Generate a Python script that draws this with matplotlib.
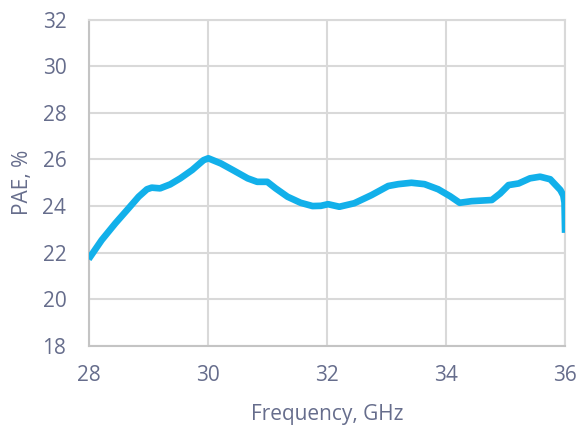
import matplotlib.pyplot as plt

# PAE vs frequency
freq = [28.0, 28.22, 28.45, 28.67, 28.84, 28.98, 29.06, 29.20, 29.37, 29.54,
        29.74, 29.93, 30.01, 30.22, 30.44, 30.67, 30.83, 31.0, 31.14, 31.34,
        31.56, 31.76, 31.9, 32.02, 32.21, 32.46, 32.75, 33.03, 33.20, 33.42,
        33.64, 33.87, 34.07, 34.23, 34.43, 34.77, 34.91, 35.05, 35.22, 35.41,
        35.58, 35.75, 35.92, 35.97, 35.99, 36.0]
pae = [21.72, 22.54, 23.26, 23.9, 24.40, 24.72, 24.79, 24.76, 24.93, 25.19,
       25.55, 25.97, 26.05, 25.83, 25.52, 25.19, 25.04, 25.04, 24.76, 24.40,
       24.14, 24.0, 24.01, 24.08, 23.97, 24.12, 24.47, 24.86, 24.94, 25.0,
       24.94, 24.72, 24.42, 24.14, 24.21, 24.26, 24.54, 24.90, 24.97, 25.19,
       25.26, 25.15, 24.69, 24.45, 24.15, 22.85]

xticks = [28, 30, 32, 34, 36]
yticks = [18, 20, 22, 24, 26, 28, 30, 32]

plt.rcParams['font.family'] = ['Open Sans', 'DejaVu Sans']
text_color = '#666d8c'
grid_color = '#d9d9d9'

fig = plt.figure(figsize=(5.79, 4.28), dpi=100)
ax = fig.add_axes([0.153, 0.192, 0.823, 0.762])

ax.plot(freq, pae, color='#12b0ea', linewidth=4.8, solid_capstyle='butt',
        solid_joinstyle='round', zorder=3)

ax.set_xlim(28, 36)
ax.set_ylim(18, 32)
ax.set_xticks(xticks)
ax.set_yticks(yticks)
ax.grid(True, color=grid_color, linewidth=1.5)
ax.set_axisbelow(True)
for side in ['top', 'right']:
    ax.spines[side].set_color(grid_color)
    ax.spines[side].set_linewidth(1.5)
for side in ['left', 'bottom']:
    ax.spines[side].set_color('#c4c4c4')
    ax.spines[side].set_linewidth(1.5)

ax.tick_params(axis='both', length=0, labelsize=15, colors=text_color)
ax.tick_params(axis='y', pad=16)
ax.tick_params(axis='x', pad=14)

ax.set_xlabel('Frequency, GHz', fontsize=15, color=text_color, labelpad=13)
ax.set_ylabel('PAE, %', fontsize=15, color=text_color, labelpad=7)

fig.savefig('out.png', dpi=100)
